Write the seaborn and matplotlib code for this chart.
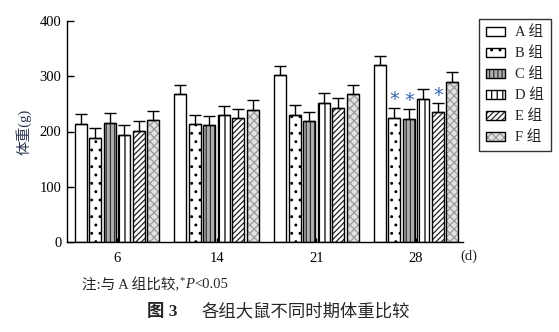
import numpy as np
import pandas as pd
import matplotlib
matplotlib.use("Agg")
import matplotlib.pyplot as plt
import seaborn as sns

days = ["6", "14", "21", "28"]
groups = ["A 组", "B 组", "C 组", "D 组", "E 组", "F 组"]
means_a = [214, 268, 302, 320]
means_b = [189, 214, 230, 225]
means_c = [216, 212, 219, 223]
means_d = [194, 230, 252, 259]
means_e = [201, 225, 243, 236]
means_f = [221, 239, 267, 290]
err_a = [17, 16, 17, 16]
err_b = [17, 16, 18, 18]
err_c = [17, 16, 17, 18]
err_d = [17, 16, 18, 18]
err_e = [18, 16, 17, 15]
err_f = [17, 18, 18, 18]
means = dict(zip(groups, [means_a, means_b, means_c, means_d, means_e, means_f]))
errs = dict(zip(groups, [err_a, err_b, err_c, err_d, err_e, err_f]))
sig = {"B 组": [3], "C 组": [3], "E 组": [3]}  # day indices with * marks

sns.set_theme(style="white")
plt.rcParams["font.family"] = ["Liberation Serif", "Noto Sans CJK SC", "DejaVu Sans"]
plt.rcParams["hatch.linewidth"] = 0.9

rows = []
for g in groups:
    for d, v in zip(days, means[g]):
        rows.append({"day": d, "group": g, "value": v})
df = pd.DataFrame(rows)

fig = plt.figure(figsize=(5.59, 3.32), dpi=100)
ax = fig.add_axes([67 / 559, 1 - 242 / 332, (463 - 67) / 559, (242 - 21) / 332])

sns.barplot(data=df, x="day", y="value", hue="group", order=days, hue_order=groups,
            palette=["white"] * 6, width=0.87, gap=0.17, errorbar=None,
            edgecolor="black", linewidth=1.0, legend=False, ax=ax)

styles = {
    "A 组": dict(fc="white", hatch=None, hc="black"),
    "B 组": dict(fc="white", hatch="..", hc="black"),
    "C 组": dict(fc="#b0b0b0", hatch="||||", hc="#333333"),
    "D 组": dict(fc="white", hatch="|||", hc="black"),
    "E 组": dict(fc="white", hatch="//////", hc="#222222"),
    "F 组": dict(fc="#e2e2e2", hatch="xxxx", hc="#9a9a9a"),
}

handles = []
for g, cont in zip(groups, ax.containers):
    st = styles[g]
    xs, ys = [], []
    for bar, v in zip(cont.patches, means[g]):
        bar.set_facecolor(st["fc"])
        bar.set_edgecolor("black")
        if st["hatch"]:
            bar.set_hatch(st["hatch"])
            bar._hatch_color = matplotlib.colors.to_rgba(st["hc"])
        xs.append(bar.get_x() + bar.get_width() / 2)
        ys.append(v)
    ax.errorbar(xs, ys, yerr=[np.zeros(len(ys)), errs[g]], fmt="none",
                ecolor="black", elinewidth=1.0, capsize=4, capthick=1.0, zorder=1)
    for i in sig.get(g, []):
        ax.text(xs[i], ys[i] + errs[g][i] + 15, "*", ha="center", va="center",
                fontsize=14, color="#3a66b0", family="DejaVu Sans")
    handles.append(cont.patches[0])

ax.set_ylim(0, 400)
ax.set_xlim(-0.5, 3.47)
ax.set_yticks([0, 100, 200, 300, 400])
ax.set_xlabel("")
ax.set_ylabel("体重(g)", fontsize=10.5, color="#2a3450", labelpad=6)
sns.despine(ax=ax, top=True, right=True)
for s in ["left", "bottom"]:
    ax.spines[s].set_color("black")
    ax.spines[s].set_linewidth(1.0)
ax.tick_params(axis="y", direction="in", length=5, width=1, labelsize=10.5,
               colors="black", left=True, pad=4)
ax.tick_params(axis="x", direction="in", length=3, width=1, labelsize=10.5,
               colors="black", bottom=True, pad=7)

fig.text(469 / 559, 1 - 256 / 332, "(d)", fontsize=10.5, va="center", ha="center")

leg = fig.legend(handles, groups, loc="upper left",
                 bbox_to_anchor=(479 / 559, 1 - 19 / 332), frameon=True,
                 fancybox=False, edgecolor="black", fontsize=10.5,
                 handlelength=1.35, handleheight=0.55, labelspacing=0.5,
                 handletextpad=0.7, borderpad=0.45, borderaxespad=0)
leg.get_frame().set_linewidth(1.0)

# note line, pieces placed one after another
fig.canvas.draw()
renderer = fig.canvas.get_renderer()
yc = 1 - 285 / 332
x = 82 / 559
pieces = [("注:与 A 组比较,", dict(fontsize=10.5), 0.0, 0.5),
          ("*", dict(fontsize=7.5), 0.013, 0.3),
          ("P", dict(fontsize=10.5, style="italic"), 0.0, 0.3),
          ("<0.05", dict(fontsize=10.5), 0.0, 0)]
for s, kw, dy, gap in pieces:
    t = fig.text(x, yc + dy, s, va="center", ha="left", **kw)
    bb = t.get_window_extent(renderer)
    x = (bb.x1 + gap) / fig.bbox.width

fig.text(147 / 559, 1 - 312 / 332, "图 3", fontsize=12.5, va="center", ha="left",
         fontweight="bold")
fig.text(202 / 559, 1 - 312 / 332, "各组大鼠不同时期体重比较", fontsize=12.5,
         va="center", ha="left")

fig.savefig("out.png", dpi=100)
